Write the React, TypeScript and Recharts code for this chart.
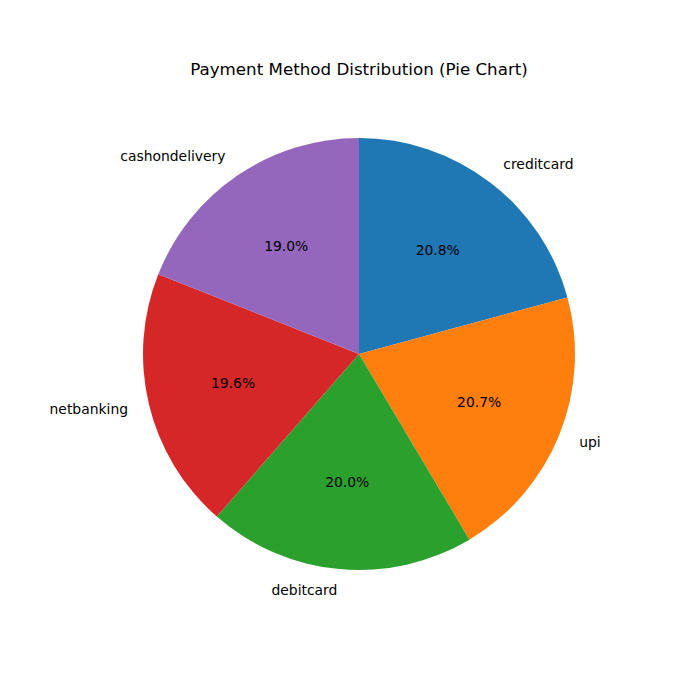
import { PieChart, Pie, Cell } from 'recharts'

const methods = ['creditcard', 'upi', 'debitcard', 'netbanking', 'cashondelivery']
const shares = [20.8, 20.7, 20.0, 19.6, 19.0]
const colors = ['#1f77b4', '#ff7f0e', '#2ca02c', '#d62728', '#9467bd']

const data = methods.map((name, i) => ({ name, value: shares[i] }))
const RAD = Math.PI / 180
const FONT = 'DejaVu Sans, sans-serif'

function renderLabel(props: any) {
  const { cx, cy, midAngle, outerRadius, percent, name } = props
  const cos = Math.cos(-midAngle * RAD)
  const sin = Math.sin(-midAngle * RAD)
  const lx = cx + outerRadius * 1.1 * cos
  const ly = cy + outerRadius * 1.1 * sin - 1
  const px = cx + outerRadius * 0.6 * cos
  const py = cy + outerRadius * 0.6 * sin - 1
  return (
    <g>
      <text x={lx} y={ly} textAnchor={lx > cx ? 'start' : 'end'} dominantBaseline="central"
        fontSize={13.9} fontFamily={FONT} fill="#000">{name}</text>
      <text x={px} y={py} textAnchor="middle" dominantBaseline="central"
        fontSize={13.9} fontFamily={FONT} fill="#000">{(percent * 100).toFixed(1)}%</text>
    </g>
  )
}

export default function App() {
  return (
    <div style={{ position: 'absolute', left: 0, top: 0, width: 700, height: 700, background: '#fff' }}>
      <div style={{ position: 'absolute', left: 0, top: 59, width: 718, textAlign: 'center',
        fontFamily: FONT, fontSize: 16.7, color: '#000' }}>
        Payment Method Distribution (Pie Chart)
      </div>
      <PieChart width={700} height={700} style={{ position: 'absolute', left: 0, top: 0 }}>
        <Pie data={data} dataKey="value" nameKey="name" cx={354} cy={349} outerRadius={216}
          startAngle={90} endAngle={-270} stroke="none" labelLine={false} label={renderLabel}
          isAnimationActive={false}>
          {data.map((d, i) => <Cell key={d.name} fill={colors[i]} />)}
        </Pie>
      </PieChart>
    </div>
  )
}
